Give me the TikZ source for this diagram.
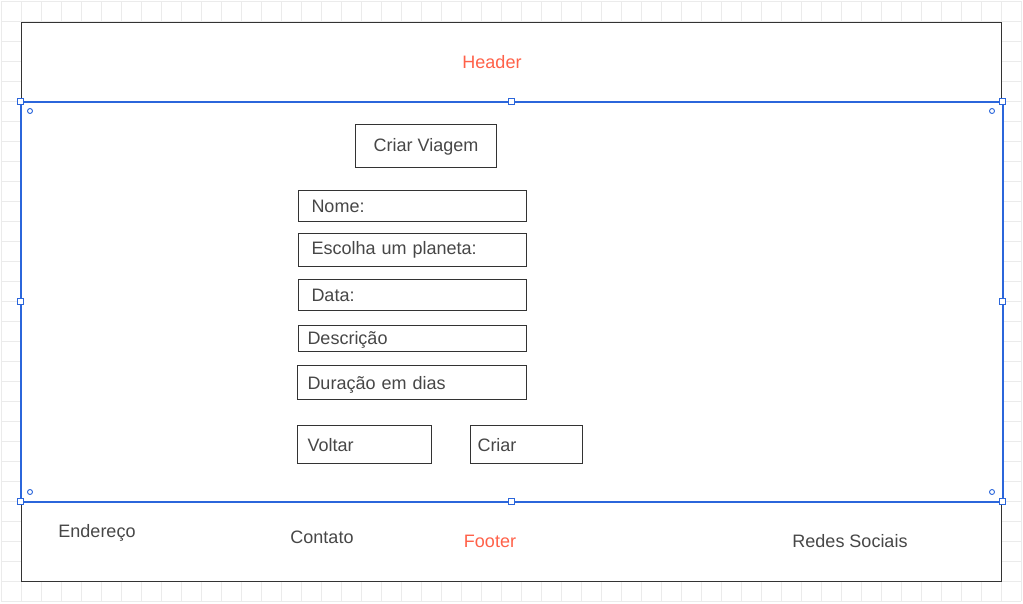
\documentclass[tikz,border=0pt]{standalone}
\usepackage{fontspec}
\setmainfont{Liberation Sans}
\usetikzlibrary{positioning}

\definecolor{grade}{HTML}{EBEBEB}
\definecolor{linha}{HTML}{333333}
\definecolor{texto}{HTML}{474747}
\definecolor{destaque}{HTML}{FF6149}
\definecolor{selecao}{HTML}{2B66DB}

\tikzset{
  caixa/.style={draw=linha, line width=1pt, anchor=north west, inner sep=0pt,
    align=left, text=texto, text height=15pt, text depth=2pt,
    font=\fontsize{18}{21}\selectfont},
  rotulo/.style={text=texto, inner sep=0pt, font=\fontsize{18}{21}\selectfont},
  alca/.style={draw=selecao, fill=white, line width=1pt, minimum size=6pt, inner sep=0pt},
  ponto/.style={draw=selecao, fill=white, line width=0.9pt, circle, minimum size=5pt, inner sep=0pt}
}

\begin{document}
\begin{tikzpicture}[x=1pt, y=-1pt]
  \useasboundingbox (0,0) rectangle (1023,603);
  \fill[white] (0,0) rectangle (1023,603);
  % grade de fundo
  \foreach \gx in {1,21,...,1021}
    \draw[grade, line width=1pt] (\gx,1) -- (\gx,601);
  \foreach \gy in {1,21,...,601}
    \draw[grade, line width=1pt] (1,\gy) -- (1021,\gy);

  % header e footer
  \node[caixa, fill=white, minimum width=980pt, minimum height=79pt] (header) at (21,22) {};
  \node[text=destaque, font=\fontsize{18}{21}\selectfont, inner sep=0pt] (tituloheader) at (492,62) {Header};
  \node[caixa, fill=white, minimum width=980pt, minimum height=80pt] (footer) at (21,501) {};
  \node[text=destaque, font=\fontsize{18}{21}\selectfont, inner sep=0pt] (titulofooter) at (490,541) {Footer};
  \node[rotulo] (endereco) at (97,533) {Endereço};
  \node[rotulo] (contato) at (322,537) {Contato};
  \node[rotulo] (redes) at (850,541) {Redes Sociais};

  % corpo selecionado
  \node[draw=selecao, fill=white, line width=1.6pt, anchor=north west, inner sep=0pt,
    minimum width=982pt, minimum height=400pt] (corpo) at (20,101) {};

  % formulario
  \node[caixa, minimum width=141pt, minimum height=43pt, align=center, text height=14pt, text depth=3pt] (titulo) at (355,124) {Criar Viagem};
  \node[caixa, minimum width=228pt, minimum height=31pt, text width=202pt] (nome) at (298,190) {Nome:};
  \node[caixa, minimum width=228pt, minimum height=33pt, text width=202pt, text height=13pt, text depth=4pt] (planeta) at (298,233) {Escolha um planeta:};
  \node[caixa, minimum width=228pt, minimum height=31pt, text width=202pt] (data) at (298,279) {Data:};
  \node[caixa, minimum width=228pt, minimum height=26pt, text width=210pt, text height=14pt, text depth=3pt] (descricao) at (298,325) {Descrição};
  \node[caixa, minimum width=229pt, minimum height=34pt, text width=209pt] (duracao) at (297,365) {Duração em dias};
  \node[caixa, minimum width=134pt, minimum height=38pt, text width=114pt] (voltar) at (297,425) {Voltar};
  \node[caixa, minimum width=112pt, minimum height=38pt, text width=98pt] (criar) at (470,425) {Criar};

  % alcas de selecao
  \foreach \ax/\ay [count=\i] in {20/101,511/101,1002/101,20/301,1002/301,20/501,511/501,1002/501}
    \node[alca] (alca\i) at (\ax,\ay) {};
  \foreach \px/\py [count=\i] in {30/111,992/111,30/492,992/492}
    \node[ponto] (ponto\i) at (\px,\py) {};
\end{tikzpicture}
\end{document}
